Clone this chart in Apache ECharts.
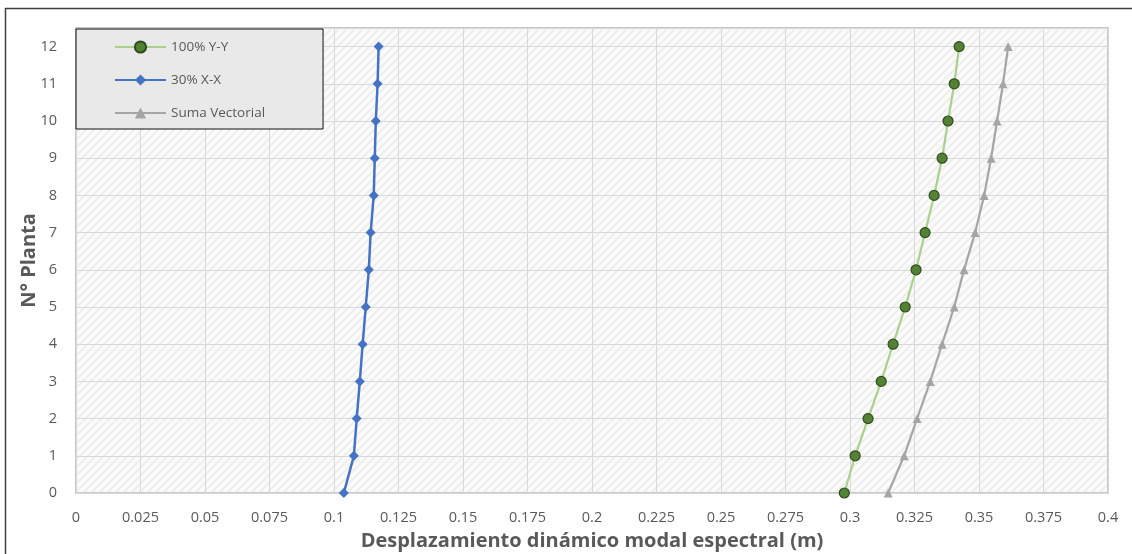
<!DOCTYPE html>
<html>
<head>
<meta charset="utf-8">
<script src="https://cdn.jsdelivr.net/npm/echarts@6/dist/echarts.min.js"></script>
<style>
  html, body { margin: 0; padding: 0; background: #fff; }
  #chart { width: 1132px; height: 554px; }
</style>
</head>
<body>
<div id="chart"></div>
<script>
// 楼层 (N° Planta)
const floors = [0, 1, 2, 3, 4, 5, 6, 7, 8, 9, 10, 11, 12]

// 位移数据 (m)
const yy100 = [0.2978, 0.302, 0.307, 0.3121, 0.3167, 0.3214, 0.3256, 0.3291, 0.3326, 0.3357, 0.338, 0.3404, 0.3423]
const xx30 = [0.1038, 0.1077, 0.1088, 0.11, 0.1111, 0.1123, 0.1135, 0.1142, 0.1154, 0.1158, 0.1162, 0.1169, 0.1173]
const sumaVec = [0.3148, 0.321, 0.326, 0.3311, 0.3357, 0.3404, 0.3442, 0.3485, 0.352, 0.3547, 0.357, 0.3593, 0.3613]

const seriesNames = ['100% Y-Y', '30% X-X', 'Suma Vectorial']

const toPairs = (vals) => vals.map((v, i) => [v, floors[i]])

// 斜纹背景
const makePattern = () => {
  const c = document.createElement('canvas')
  c.width = 8
  c.height = 8
  const ctx = c.getContext('2d')
  ctx.fillStyle = '#fbfbfb'
  ctx.fillRect(0, 0, 8, 8)
  ctx.strokeStyle = '#eeeeee'
  ctx.lineWidth = 2
  ctx.beginPath()
  ctx.moveTo(0, 8)
  ctx.lineTo(8, 0)
  ctx.moveTo(-4, 4)
  ctx.lineTo(4, -4)
  ctx.moveTo(4, 12)
  ctx.lineTo(12, 4)
  ctx.stroke()
  return c
}

const font = '"Open Sans", "Noto Sans", sans-serif'

const chart = echarts.init(document.getElementById('chart'))

chart.setOption({
  animation: false,
  backgroundColor: '#fff',
  graphic: [
    { type: 'line', shape: { x1: 5, y1: 8.5, x2: 1132, y2: 8.5 }, style: { stroke: '#404040', lineWidth: 1.5 }, z: 0 },
    { type: 'line', shape: { x1: 5.5, y1: 8, x2: 5.5, y2: 554 }, style: { stroke: '#404040', lineWidth: 1.5 }, z: 0 }
  ],
  grid: {
    left: 76,
    right: 24,
    top: 28,
    bottom: 61,
    outerBoundsMode: 'none',
    containLabel: false,
    show: true,
    backgroundColor: { image: makePattern(), repeat: 'repeat' },
    borderColor: '#c8c8c8',
    borderWidth: 2
  },
  legend: {
    orient: 'vertical',
    left: 76,
    top: 29,
    padding: [9, 58, 7, 38],
    itemGap: 15,
    itemWidth: 51,
    itemHeight: 14,
    backgroundColor: '#e9e9e9',
    borderColor: '#111',
    borderWidth: 1,
    textStyle: { color: '#595959', fontSize: 13.5, fontFamily: font, lineHeight: 18 },
    data: seriesNames
  },
  xAxis: {
    type: 'value',
    min: 0,
    max: 0.4,
    interval: 0.025,
    name: 'Desplazamiento dinámico modal espectral (m)',
    nameLocation: 'middle',
    nameGap: 38,
    nameMoveOverlap: false,
    nameTextStyle: { fontSize: 20, fontWeight: 'bold', color: '#595959', fontFamily: font },
    axisLine: { show: false },
    axisTick: { show: false },
    axisLabel: {
      color: '#595959',
      fontSize: 14.5,
      fontFamily: font,
      margin: 17,
      formatter: (v) => String(parseFloat(v.toFixed(3)))
    },
    splitLine: { show: true, lineStyle: { color: '#d9d9d9', width: 1 } }
  },
  yAxis: {
    type: 'value',
    min: 0,
    max: 12.5,
    interval: 1,
    name: 'N° Planta',
    nameLocation: 'middle',
    nameGap: 37,
    nameMoveOverlap: false,
    nameTextStyle: { fontSize: 20, fontWeight: 'bold', color: '#595959', fontFamily: font },
    axisLine: { show: false },
    axisTick: { show: false },
    axisLabel: {
      color: '#595959',
      fontSize: 14.5,
      fontFamily: font,
      margin: 19,
      showMaxLabel: false,
      formatter: (v) => (Number.isInteger(v) ? String(v) : '')
    },
    splitLine: { show: true, lineStyle: { color: '#d9d9d9', width: 1 } }
  },
  series: [
    {
      name: seriesNames[0],
      type: 'line',
      data: toPairs(yy100),
      symbol: 'circle',
      symbolSize: 10,
      lineStyle: { color: '#a9d18e', width: 2.2 },
      itemStyle: { color: '#548235', borderColor: '#2f4d1d', borderWidth: 1.2 },
      z: 3
    },
    {
      name: seriesNames[1],
      type: 'line',
      data: toPairs(xx30),
      symbol: 'diamond',
      symbolSize: 10,
      lineStyle: { color: '#4472c4', width: 2.5 },
      itemStyle: { color: '#4472c4' },
      z: 3
    },
    {
      name: seriesNames[2],
      type: 'line',
      data: toPairs(sumaVec),
      symbol: 'triangle',
      symbolSize: 9,
      lineStyle: { color: '#a5a5a5', width: 2.2 },
      itemStyle: { color: '#a5a5a5' },
      z: 2
    }
  ]
})

window.addEventListener('resize', () => chart.resize())
</script>
</body>
</html>
